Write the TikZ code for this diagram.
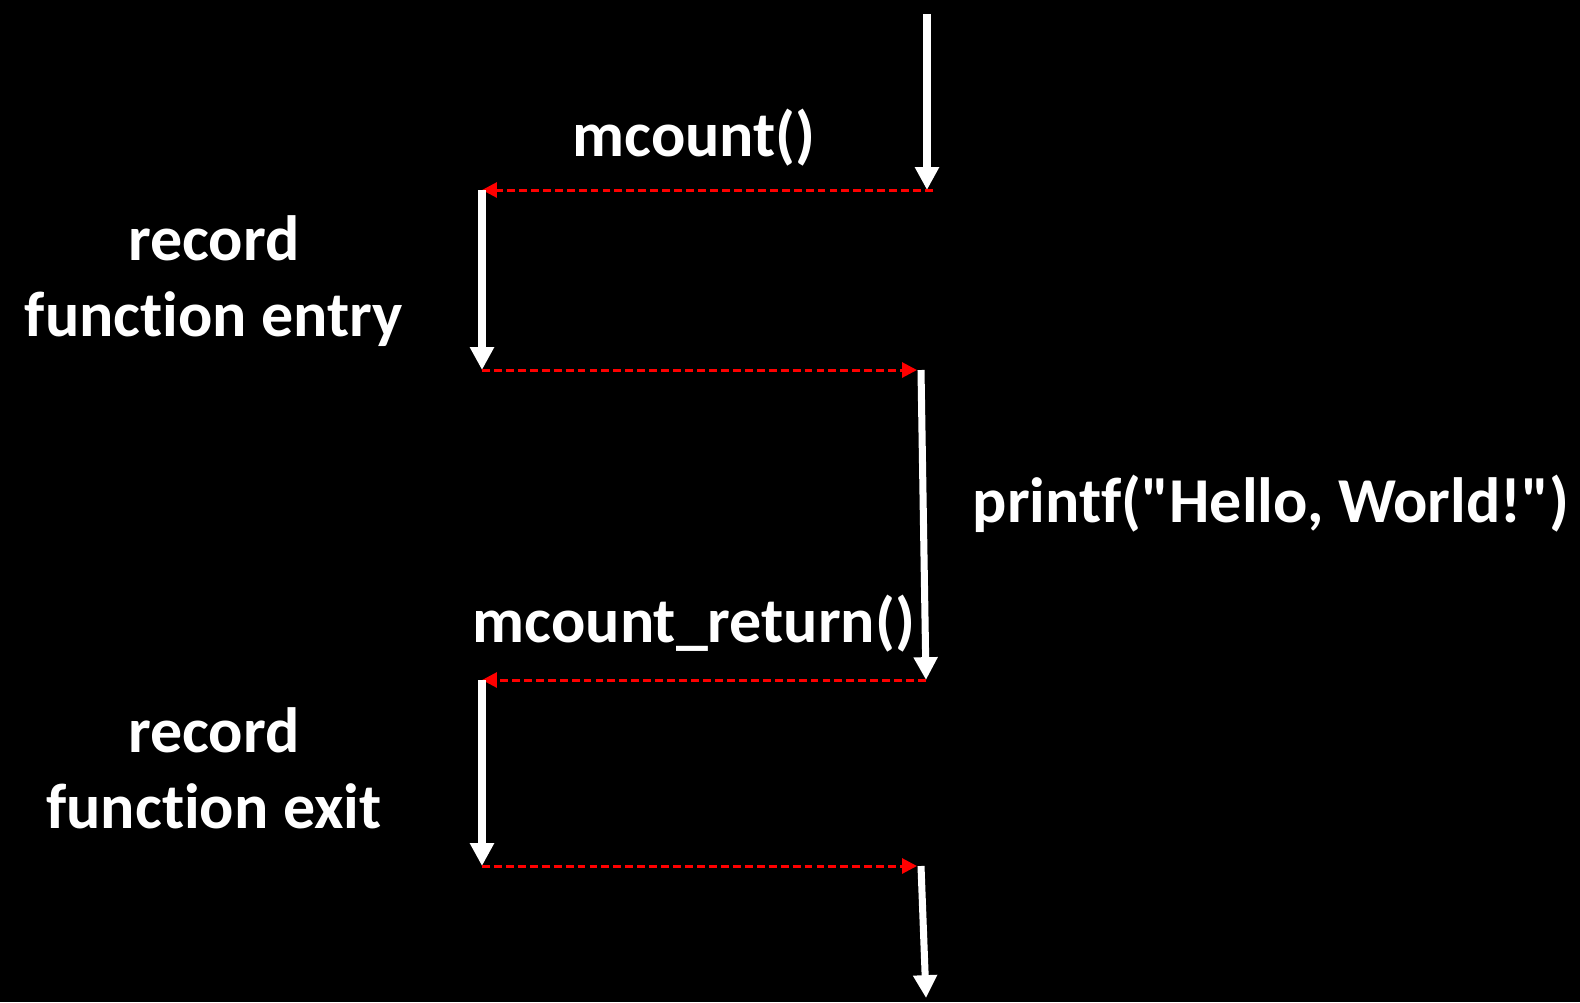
\documentclass[tikz,border=0pt]{standalone}
\usepackage{fontspec}
\newfontfamily\labelfont{Carlito}[Ligatures={NoCommon}]
\usetikzlibrary{arrows.meta}
\begin{document}
\begin{tikzpicture}[x=0.02cm, y=-0.02cm,
	flow/.style={draw=white, line width=4pt, -{Triangle[width=13pt, length=13pt]}},
	hop/.style={draw=red, line width=1.7pt, dash pattern=on 4.5pt off 2.3pt, -{Triangle[width=8.5pt, length=8.5pt]}},
	label/.style={text=white, font=\labelfont\bfseries\fontsize{36.4}{43}\selectfont, align=center, inner sep=0pt}]
	\fill[black] (0, 0) rectangle (1580, 1002);
	\useasboundingbox (0, 0) rectangle (1580, 1002);
	
	\coordinate (main-top) at (927, 14);
	\coordinate (call) at (927, 190);
	\coordinate (call-right) at (933, 190);
	\coordinate (entry-top) at (482, 190);
	\coordinate (entry-bottom) at (482, 370);
	\coordinate (body-top) at (921, 370);
	\coordinate (body-in) at (917, 370);
	\coordinate (ret) at (926, 680);
	\coordinate (exit-top) at (482, 680);
	\coordinate (exit-bottom) at (482, 866);
	\coordinate (tail-top) at (921, 866);
	\coordinate (tail-in) at (917, 866);
	\coordinate (main-bottom) at (926, 998);
	
	\draw[flow] (main-top) -- (call);
	\draw[hop] (call-right) -- (entry-top);
	\draw[flow] (entry-top) -- (entry-bottom);
	\draw[hop] (entry-bottom) -- (body-in);
	\draw[flow] (body-top) -- (ret);
	\draw[hop] (ret) -- (exit-top);
	\draw[flow] (exit-top) -- (exit-bottom);
	\draw[hop] (exit-bottom) -- (tail-in);
	\draw[flow] (tail-top) -- (main-bottom);
	
	\node[label, anchor=base] (mcount) at (694, 156) {mcount()};
	\node[label, anchor=base] (entry) at (214, 336) {record\\function entry};
	\node[label, anchor=base] (printf) at (1271, 522) {printf("Hello, World!")};
	\node[label, anchor=base] (mcount-return) at (694, 642) {mcount\_return()};
	\node[label, anchor=base] (exit) at (214, 828) {record\\function exit};
\end{tikzpicture}
\end{document}
